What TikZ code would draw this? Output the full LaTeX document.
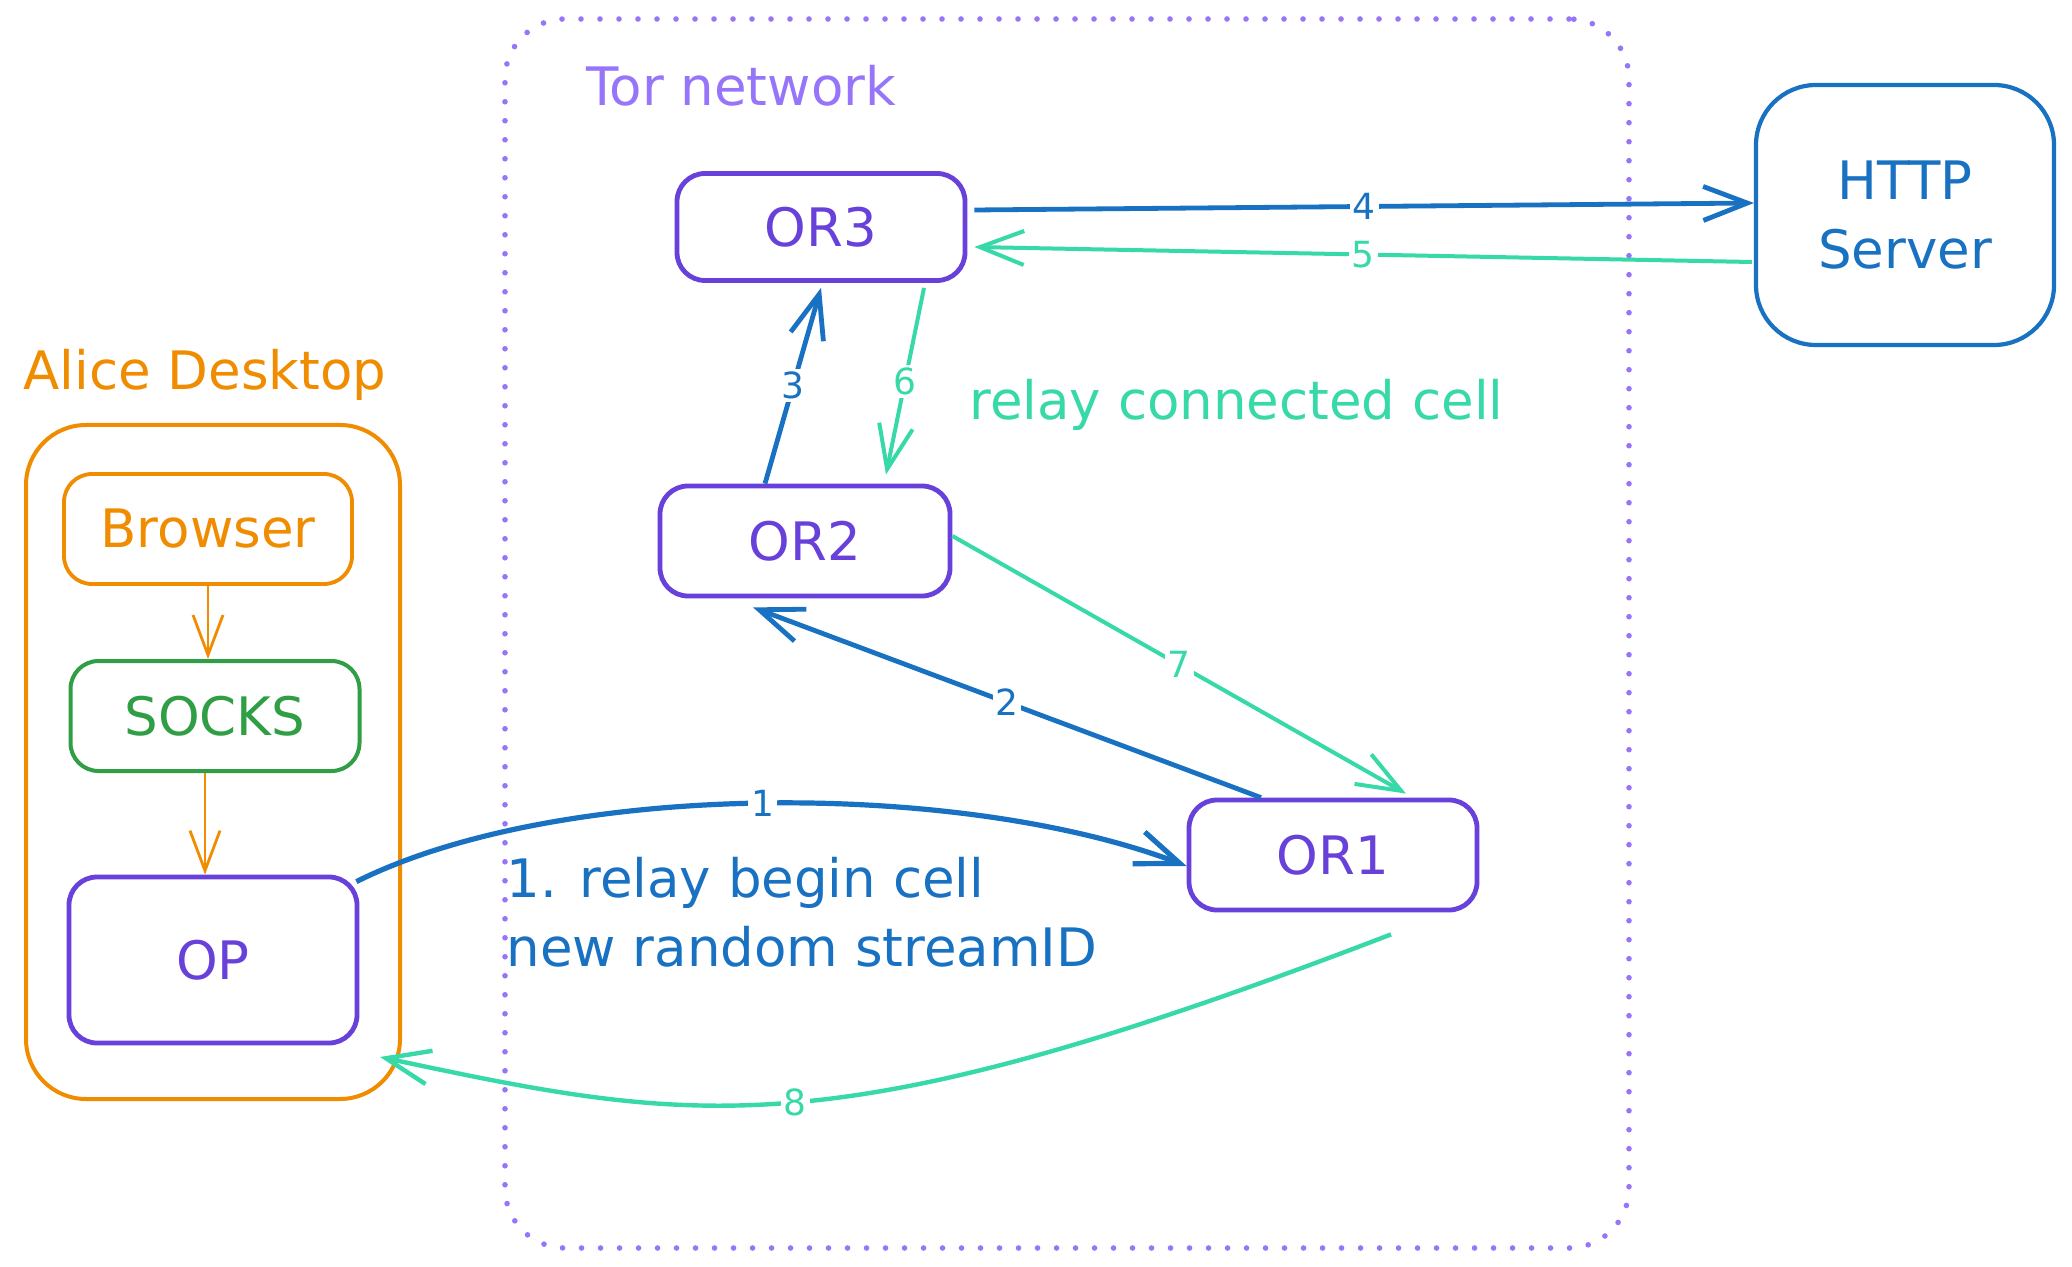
\documentclass[tikz,border=0pt]{standalone}
\usepackage{fontspec}
\setmainfont{DejaVu Sans}
\usetikzlibrary{arrows.meta}
\definecolor{cviolet}{HTML}{6741D9}
\definecolor{clight}{HTML}{9775FA}
\definecolor{corange}{HTML}{F08C00}
\definecolor{cgreen}{HTML}{2F9E44}
\definecolor{cblue}{HTML}{1971C2}
\definecolor{cteal}{HTML}{38D9A9}
\newcommand\diagfont{\fontsize{26.5}{34.5}\selectfont}
\newcommand\lblfont{\fontsize{18}{20}\selectfont}
\begin{document}
\begin{tikzpicture}[x=0.5pt,y=-0.5pt,
  font=\diagfont,
  box/.style={draw=cviolet, text=cviolet, line width=2.4pt, rounded corners=14pt, inner sep=0pt, align=center},
  lbl/.style={fill=white, inner sep=1.5pt, font=\lblfont},
  barb/.style={-{Straight Barb[length=22pt,width=17pt]}},
  barrow/.style={barb, draw=cblue, line width=2.4pt},
  tarrow/.style={barb, draw=cteal, line width=2pt},
  oarrow/.style={-{Straight Barb[length=20pt,width=15pt]}, draw=corange, line width=1.4pt},
]
\useasboundingbox (0,0) rectangle (2072,1267);
\fill[white] (0,0) rectangle (2072,1267);

% Tor network region
\node[draw=clight, line width=2.8pt, line cap=round, dash pattern=on 0pt off 9.5pt,
      rounded corners=30pt, minimum width=562pt, minimum height=614.5pt] (tor) at (1067,633.5) {};
\node[anchor=base west, text=clight, inner sep=0pt] (torlabel) at (586,106) {Tor network};

% Alice desktop
\node[draw=corange, line width=2pt, rounded corners=30pt, minimum width=187pt, minimum height=337pt] (alice) at (213,762) {};
\node[anchor=base west, text=corange, inner sep=0pt] (alicelabel) at (23,390) {Alice Desktop};

\node[box, draw=corange, text=corange, line width=1.9pt, minimum width=144pt, minimum height=55pt] (browser) at (208,529) {Browser};
\node[box, draw=cgreen, text=cgreen, line width=2pt, minimum width=144.5pt, minimum height=55pt] (socks) at (215,716) {SOCKS};
\node[box, minimum width=144pt, minimum height=83pt] (op) at (213,960) {OP};

% relays
\node[box, minimum width=144pt, minimum height=53.5pt] (or3) at (821,227) {OR3};
\node[box, minimum width=145pt, minimum height=55pt] (or2) at (805,541) {OR2};
\node[box, minimum width=144pt, minimum height=55pt] (or1) at (1333,855) {OR1};

% server
\node[box, draw=cblue, text=cblue, line width=2.1pt, rounded corners=30pt, minimum width=149pt, minimum height=130pt] (http) at (1905,215) {HTTP\\Server};

% texts
\node[anchor=base west, text=cteal, inner sep=0pt] (connlabel) at (969,420) {relay connected cell};
\node[anchor=base west, text=cblue, inner sep=0pt, align=left] (beginlabel) at (506,966) {1. relay begin cell\\new random streamID};

% connectors
\draw[oarrow] (browser.south) -- (browser.south |- socks.north);
\draw[oarrow] ([xshift=-5pt]socks.south) -- ([xshift=-5pt]socks.south |- op.north);

\draw[barrow, line width=2.6pt] ([xshift=-1.5pt,yshift=-3.5pt]op.north east) .. controls (560,780) and (960,780) .. node[lbl, text=cblue] {1} ([yshift=-5.5pt]or1.west);
\draw[barrow] ([xshift=-36pt]or1.north) -- node[lbl, text=cblue] {2} ([xshift=-26pt,yshift=-4.5pt]or2.south);
\draw[barrow] ([xshift=-20pt]or2.north) -- node[lbl, text=cblue] {3} ([yshift=-2.5pt]or3.south);
\draw[barrow] ([xshift=3.5pt,yshift=8.5pt]or3.east) -- node[lbl, text=cblue] {4} ([yshift=6pt]http.west);
\draw[tarrow] ([xshift=-1pt,yshift=-23.5pt]http.west) -- node[lbl, text=cteal] {5} ([xshift=3.5pt,yshift=-10pt]or3.east);
\draw[tarrow] ([xshift=51.5pt,yshift=-2.5pt]or3.south) -- node[lbl, text=cteal] {6} ([xshift=40.5pt,yshift=4.5pt]or2.north);
\draw[tarrow] ([yshift=2.5pt]or2.east) -- node[lbl, text=cteal] {7} ([xshift=36.5pt,yshift=2pt]or1.north);
\coordinate (tip8) at (380,1057);
\draw[tarrow, line width=2.2pt] ([xshift=29pt,yshift=-11pt]or1.south) .. controls (830,1150) and (700,1125) .. node[lbl, text=cteal] {8} (tip8);
\end{tikzpicture}
\end{document}
